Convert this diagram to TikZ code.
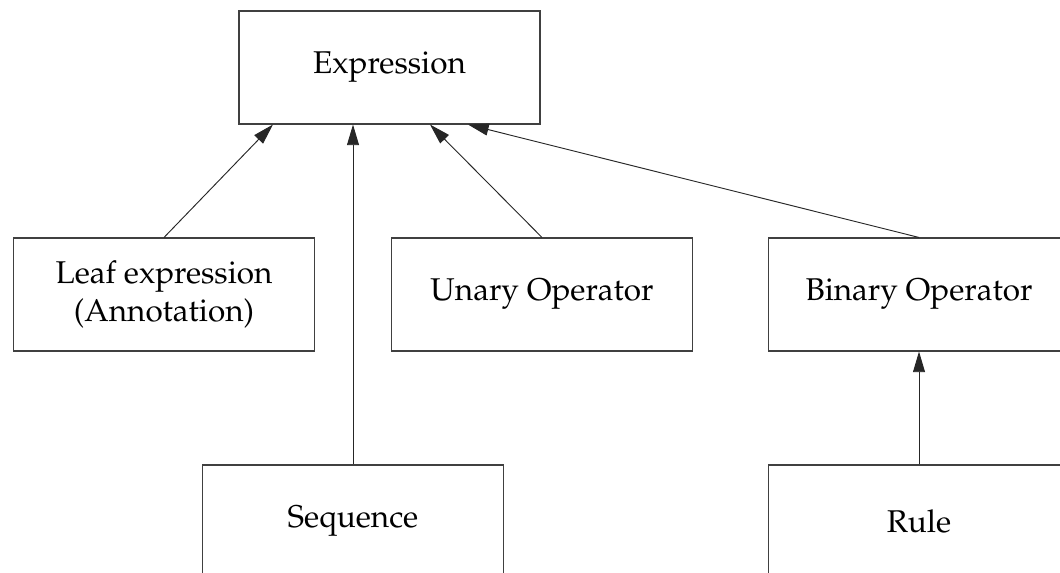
\documentclass[tikz,border=0pt]{standalone}
\usepackage[T1]{fontenc}
\usepackage{mathpazo}
\usetikzlibrary{arrows.meta,calc}

\tikzset{
  classbox/.style={draw=black!75, line width=0.8pt, rectangle, inner sep=0pt,
    minimum width=301*0.75pt, minimum height=113*0.75pt, align=center,
    font=\fontsize{23.6}{28.5}\selectfont},
  inherits/.style={draw=black!85, line width=0.7pt,
    -{Triangle[length=15.5pt,width=9pt]}}
}

\begin{document}
\begin{tikzpicture}[x=0.75pt, y=-0.75pt]
  \useasboundingbox (0,0) rectangle (1060,573);
  \clip (0,0) rectangle (1060,573);

  \node[classbox] (expr)  at (389.5,67.5)  {Expression};
  \node[classbox] (leaf)  at (164,294.5)   {Leaf expression\\(Annotation)};
  \node[classbox] (unary) at (542,294.5)   {Unary Operator};
  \node[classbox] (binary) at (919,294.5)  {Binary Operator};
  \node[classbox] (seq)   at (353,521.5)   {Sequence};
  \node[classbox] (rule)  at (919,521.5)   {Rule};

  \draw[inherits] (leaf.north)   -- ([xshift=-116.5*0.75pt]expr.south);
  \draw[inherits] (seq.north)    -- (seq.north |- expr.south);
  \draw[inherits] (unary.north)  -- ([xshift=40.5*0.75pt]expr.south);
  \draw[inherits] (binary.north) -- ([xshift=78.5*0.75pt]expr.south);
  \draw[inherits] (rule.north)   -- (binary.south);
\end{tikzpicture}
\end{document}
